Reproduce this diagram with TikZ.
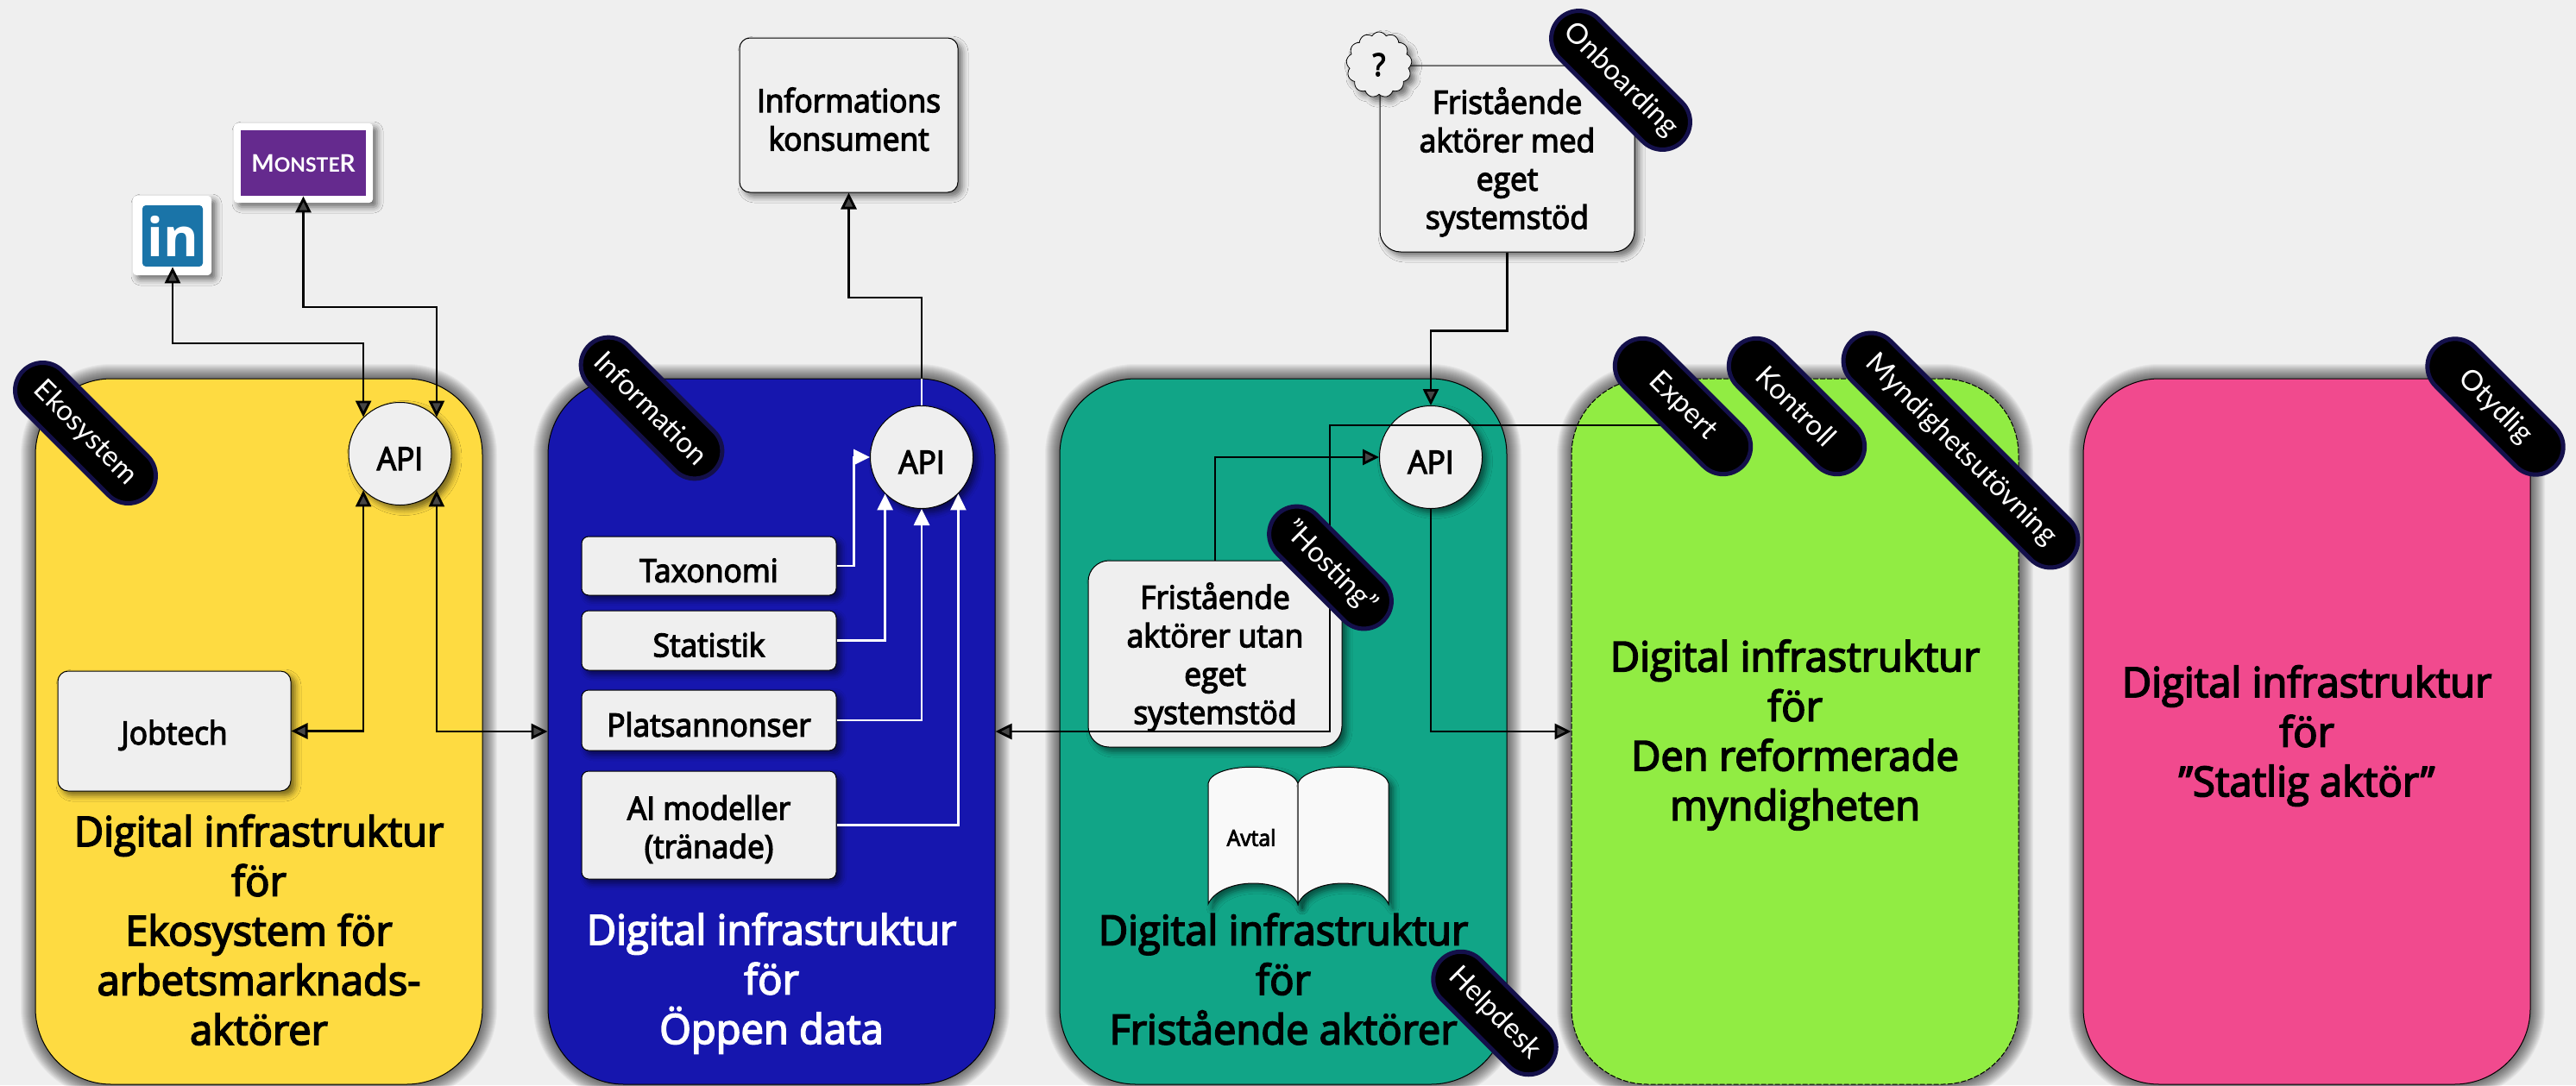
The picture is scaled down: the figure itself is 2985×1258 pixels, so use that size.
\documentclass[tikz,border=0pt]{standalone}
\usepackage{fontspec}
\setmainfont{Open Sans}
\newfontfamily\semi{Open Sans}[FakeBold=3.5,FakeStretch=0.98]
\newfontfamily\reg{Open Sans}[FakeBold=3.5,FakeStretch=0.95]
\newfontfamily\pillf{Lato}
\newfontfamily\linf{Open Sans Bold}
\newfontfamily\monf{Lato}
\usetikzlibrary{arrows.meta,shapes.misc,shapes.symbols,shadows.blur,calc}
\pgfdeclarelayer{front}
\pgfsetlayers{main,front}
\definecolor{bgc}{HTML}{EFEFEF}
\definecolor{yellowc}{HTML}{FEDB41}
\definecolor{bluec}{HTML}{1616AE}
\definecolor{tealc}{HTML}{11A587}
\definecolor{limec}{HTML}{91EC43}
\definecolor{pinkc}{HTML}{F14A8E}
\definecolor{navyc}{HTML}{14104A}
\definecolor{purplec}{HTML}{652A8E}
\definecolor{linkc}{HTML}{1A74A8}
\tikzset{
  panel/.style={draw=black,line width=0.5pt,rounded corners=44pt,minimum width=259pt,minimum height=409pt,inner sep=0pt},
  nshadow/.style={blur shadow={shadow xshift=2.5pt,shadow yshift=-2.5pt,shadow blur radius=3.5pt,shadow opacity=55}},
  boxn/.style={draw=black,line width=0.5pt,fill=bgc,rounded corners=6pt,inner sep=0pt,align=center,text=black,nshadow},
  smallbox/.style={boxn,rounded corners=4pt,minimum width=147.5pt},
  boxtext/.style={font=\reg\fontsize{18.6}{22.25}\selectfont},
  apin/.style={circle,draw=black,line width=0.5pt,fill=bgc,minimum size=59.5pt,inner sep=0pt,nshadow,font=\reg\fontsize{18.6}{22}\selectfont},
  title/.style={align=center,inner sep=0pt,font=\semi\fontsize{24}{28.75}\selectfont},
  pillt/.style={rounded rectangle,fill=black,draw=navyc,line width=2.5pt,minimum height=32pt,inner sep=0pt,rotate=-45,text=white,
    font=\pillf\fontsize{16.5}{16.5}\selectfont},
  arr/.style={line width=1.4pt,-{Triangle[length=9.5pt,width=9pt]}},
  darr/.style={line width=1.4pt,{Triangle[length=9.5pt,width=9pt]}-{Triangle[length=9.5pt,width=9pt]}},
  warr/.style={line width=1.4pt,draw=white,-{Triangle[length=9.5pt,width=9pt,fill=white]}},
}
\newcommand\dn{\rule{0pt}{19pt}}
\begin{document}
\begin{tikzpicture}[x=0.5pt,y=-0.5pt]
\useasboundingbox (0,0) rectangle (2985,1258);
\fill[bgc] (0,0) rectangle (2985,1258);
% panel glow
\foreach \cx in {300,894,1487,2080,2673}{
  \foreach \w in {1,...,17}{
    \draw[rounded corners=44pt,line width=\w pt,black,opacity=0.04] (\cx-259,439) rectangle (\cx+259,1257);
  }
}
% panels
\node[panel,fill=yellowc] (yellow) at (300,848) {};
\node[panel,fill=bluec] (blue) at (894,848) {};
\node[panel,fill=tealc] (teal) at (1487,848) {};
\node[panel,fill=limec,dash pattern=on 3pt off 1pt] (lime) at (2080,848) {};
\node[panel,fill=pinkc] (pink) at (2673,848) {};
% logos
\node[fill=white,minimum width=45.5pt,minimum height=46pt,inner sep=0pt,nshadow,rounded corners=2pt] (linframe) at (199.5,273) {};
\node[fill=linkc,minimum width=35pt,minimum height=35.5pt,inner sep=0pt,rounded corners=2pt,text=white,font=\linf\fontsize{31}{31}\selectfont] (lin) at (200,273.5) {in};
\node[fill=white,minimum width=80.5pt,minimum height=46pt,inner sep=0pt,nshadow,rounded corners=2pt] (monframe) at (351.5,189) {};
\node[fill=purplec,minimum width=72.5pt,minimum height=38pt,inner sep=0pt,text=white,font=\monf\bfseries\fontsize{14}{14}\selectfont] (mon) at (351.5,189) {M\fontsize{11.5}{11.5}\selectfont ONSTE\fontsize{14}{14}\selectfont R};
% boxes
\node[apin] (api1) at (463.5,526) {\dn API};
\node[apin] (api2) at (1068,530) {\dn API};
\node[apin] (api3) at (1658,530) {\dn API};
\node[boxn,boxtext,minimum width=135pt,minimum height=69.5pt] (job) at (202,847.5) {\dn Jobtech};
\node[smallbox,boxtext,minimum height=34pt] (tax) at (821.5,656) {\dn Taxonomi};
\node[smallbox,boxtext,minimum height=34.5pt] (stat) at (821.5,742.5) {\dn Statistik};
\node[smallbox,boxtext,minimum height=35pt] (plats) at (821.5,835) {\dn Platsannonser};
\node[smallbox,boxtext,minimum height=62.5pt] (ai) at (821.5,956.5) {\dn AI modeller\\(tränade)};
\node[boxn,boxtext,minimum width=126.5pt,minimum height=89.5pt] (kons) at (983.5,133.5) {\dn Informations\\konsument};
\node[boxn,boxtext,minimum width=147.5pt,minimum height=108pt,rounded corners=12pt] (onb) at (1746.5,184) {\dn Fristående\\aktörer med\\eget\\systemstöd};
\node[boxn,boxtext,minimum width=147pt,minimum height=108pt,rounded corners=12pt] (utan) at (1408,758) {\dn Fristående\\aktörer utan\\eget\\systemstöd};
\node[cloud,cloud puffs=13,cloud puff arc=120,aspect=1,draw=black,line width=0.4pt,fill=bgc,minimum width=38pt,minimum height=38pt,inner sep=0pt,nshadow,font=\reg\fontsize{18}{18}\selectfont] (cloudq) at (1598,75) {?};
% book
\draw[line width=0.5pt,fill=white!60!bgc,nshadow] (1400,1048) -- (1400,908) .. controls (1405,883) and (1495,883) .. (1504,908) -- (1504,1048) .. controls (1490,1016) and (1415,1016) .. (1400,1048) -- cycle;
\draw[line width=0.5pt,fill=white!60!bgc,nshadow] (1504,1048) -- (1504,908) .. controls (1513,883) and (1603,883) .. (1609,908) -- (1609,1048) .. controls (1594,1016) and (1518,1016) .. (1504,1048) -- cycle;
\node[inner sep=0pt,font=\reg\fontsize{13}{13}\selectfont] (avtal) at (1450,971) {Avtal};
% titles
\node[title] (t1) at (300,1078) {Digital infrastruktur\\för\\Ekosystem för\\arbetsmarknads-\\aktörer};
\node[title,text=white] (t2) at (894,1140) {Digital infrastruktur\\för\\Öppen data};
\node[title] (t3) at (1487,1135) {Digital infrastruktur\\för\\Fristående aktörer};
\node[title] (t4) at (2080,852) {Digital infrastruktur\\för\\Den reformerade\\myndigheten};
\node[title] (t5) at (2673,853) {Digital infrastruktur\\för\\”Statlig aktör”};
% pills
\begin{pgfonlayer}{front}
\node[pillt,minimum width=102pt] (p1) at (99,502) {Ekosystem};
\node[pillt,minimum width=102.5pt] (p2) at (755,473) {Information};
\node[pillt,minimum width=87pt] (p3) at (1541.5,658) {”Hosting”};
\node[pillt,minimum width=87.5pt] (p4) at (1732,1174.5) {Helpdesk};
\node[pillt,minimum width=100.5pt] (p5) at (1878,93) {Onboarding};
\node[pillt,minimum width=98pt] (expert) at (1950,471) {Expert};
\node[pillt,minimum width=98pt] (p7) at (2082,471) {Kontroll};
\node[pillt,minimum width=179pt] (p8) at (2272,522) {Myndighetsutövning};
\node[pillt,minimum width=98pt] (p9) at (2891.5,471.5) {Otydlig};
\end{pgfonlayer}
% connectors
\draw[darr] (api1.135) -- ++(0,-85.6) -| (lin.south);
\draw[darr] (api1.45) -- ++(0,-127.6) -| (mon.south);
\draw[darr] (api1.225) |- (job.east);
\draw[darr] (api1.315) |- (blue.west);
\draw[warr] (tax.east) -- ++(20,0) |- (api2.west);
\draw[warr] (stat.east) -| (api2.225);
\draw[warr] (plats.east) -| (api2.south);
\draw[warr] (ai.east) -| (api2.315);
\draw[arr] (api2.north) -- ++(0,-125) -| (kons.south);
\draw[line width=1.4pt,white] (api2.north) -- (api2.north |- blue.north);
\draw[arr] (onb.south) -- ++(0,91) -| (api3.north);
\draw[arr] (utan.north) |- (api3.west);
\draw[arr] (api3.south) |- (lime.west);
\coordinate (xl) at (1541,848);
\draw[arr] ($(expert.center)+(0,22)$) -| (xl) -- (blue.east);
\end{tikzpicture}
\end{document}
